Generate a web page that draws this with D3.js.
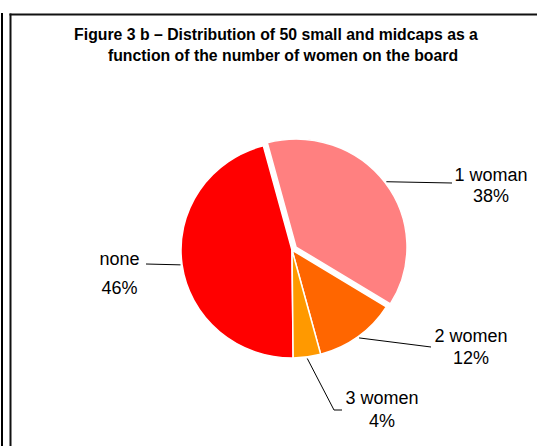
<!DOCTYPE html>
<html>
<head>
<meta charset="utf-8">
<script src="https://cdn.jsdelivr.net/npm/d3@7"></script>
<style>
  html, body { margin: 0; padding: 0; background: #fff; }
  svg { display: block; }
  text { font-family: "Liberation Sans", Arial, sans-serif; fill: #000; }
</style>
</head>
<body>
<svg id="chart" width="537" height="446"></svg>
<script>
// ---- data ----
const categories = ["none", "1 woman", "2 women", "3 women"];
const values = [46, 38, 12, 4];
const percentLabels = ["46%", "38%", "12%", "4%"];
const colors = ["#FF0000", "#FF8080", "#FF6600", "#FF9900"];
const titleLines = [
  "Figure 3 b \u2013 Distribution of 50 small and midcaps as a",
  "function of the number of women on the board"
];

// ---- layout ----
const W = 537, H = 446;
const cx = 292, cy = 250, ry = 108, rxScale = 111 / 108;
const explode = [0, 5, 0, 0];
// label anchor layout: [leader end points], text centre x, baselines
const labelLayout = [
  { pts: [[146, 264]], tx: 119.5, y1: 265, y2: 294 },
  { pts: [[452, 183]], tx: 491, y1: 181, y2: 202 },
  { pts: [[431, 347]], tx: 471, y1: 342, y2: 364 },
  { pts: [[334, 410], [342, 410]], tx: 382, y1: 404, y2: 427 }
];

const svg = d3.select("#chart");

// frame lines
svg.append("line").attr("x1", 2).attr("x2", 2).attr("y1", 13).attr("y2", H)
  .attr("stroke", "#000").attr("stroke-width", 2);
svg.append("line").attr("x1", 10.5).attr("x2", 10.5).attr("y1", 13.5).attr("y2", H)
  .attr("stroke", "#111").attr("stroke-width", 2);
svg.append("line").attr("x1", 9.5).attr("x2", W).attr("y1", 14.5).attr("y2", 14.5)
  .attr("stroke", "#111").attr("stroke-width", 2);

// title
svg.append("g").selectAll("text").data(titleLines).join("text")
  .attr("x", (d, i) => i === 0 ? 276 : 283)
  .attr("y", (d, i) => 40 + i * 21)
  .attr("text-anchor", "middle")
  .attr("font-size", 15.8)
  .attr("font-weight", "bold")
  .text(d => d);

// pie
const deg = Math.PI / 180;
const start = 179.4 * deg;
const pie = d3.pie().sort(null).value(d => d)
  .startAngle(start).endAngle(start + 2 * Math.PI);
const arcs = pie(values);
const arc = d3.arc().innerRadius(0).outerRadius(ry);

const g = svg.append("g")
  .attr("transform", `translate(${cx},${cy}) scale(${rxScale},1)`);

g.selectAll("path").data(arcs).join("path")
  .attr("transform", (d, i) => {
    const a = (d.startAngle + d.endAngle) / 2;
    return `translate(${explode[i] * Math.sin(a) / rxScale},${-explode[i] * Math.cos(a)})`;
  })
  .attr("d", arc)
  .attr("fill", (d, i) => colors[i])
  .attr("stroke", "#fff")
  .attr("stroke-width", 1.5)
  .attr("stroke-linejoin", "round");

// leader lines + labels
const line = d3.line();
arcs.forEach((d, i) => {
  const a = (d.startAngle + d.endAngle) / 2;
  const rr = ry + 1.5;
  const sx = cx + (rr * rxScale + explode[i]) * Math.sin(a);
  const sy = cy - (rr + explode[i]) * Math.cos(a);
  const L = labelLayout[i];
  svg.append("path")
    .attr("d", line([[sx, sy], ...L.pts]))
    .attr("fill", "none")
    .attr("stroke", "#000")
    .attr("stroke-width", 1);
  svg.append("text").attr("x", L.tx).attr("y", L.y1)
    .attr("text-anchor", "middle").attr("font-size", 18).text(categories[i]);
  svg.append("text").attr("x", L.tx).attr("y", L.y2)
    .attr("text-anchor", "middle").attr("font-size", 18).text(percentLabels[i]);
});
</script>
</body>
</html>
